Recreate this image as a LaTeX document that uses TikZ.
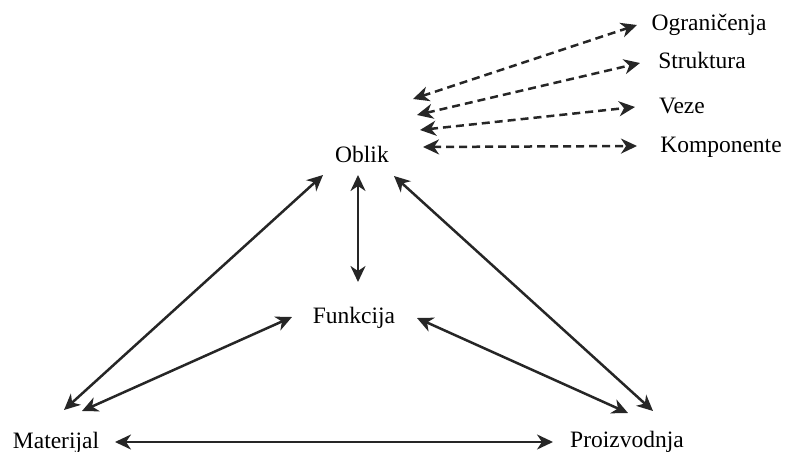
\documentclass[tikz,border=0pt]{standalone}
\usepackage{fontspec}
\setmainfont{Liberation Serif}
\usetikzlibrary{arrows.meta}
\begin{document}
\begin{tikzpicture}[x=1pt,y=-1pt,line width=2.5pt,draw=black!85,
	every node/.style={inner sep=0pt,anchor=base,font=\fontsize{23.5}{28}\selectfont},
	link/.style={{Stealth[length=16pt,width=15pt,inset=5pt]}-{Stealth[length=16pt,width=15pt,inset=5pt]}},
	dlink/.style={link,dash pattern=on 8pt off 5pt}]
	\useasboundingbox (0,0) rectangle (787,452);
	\node (Obl) at (362,162)	{Oblik};
	\node (Fun) at (354,323)	{Funkcija};
	\node (Mat) at ( 56,448)	{Materijal};
	\node (Pro) at (627,447)	{Proizvodnja};
	\node (Ogr) at (709, 31)	{Ograničenja};
	\node (Str) at (702, 69)	{Struktura};
	\node (Vez) at (682,113)	{Veze};
	\node (Kom) at (721,152)	{Komponente};
	\draw[link] ([shift={(-39,13)}]Obl.base) -- ([shift={(8,-38)}]Mat.base);
	\draw[link] ([shift={(-4,13)}]Obl.base) -- ([shift={(4,-41)}]Fun.base);
	\draw[link] ([shift={(32,14)}]Obl.base) -- ([shift={(26,-36)}]Pro.base);
	\draw[link] ([shift={(-62,-6)}]Fun.base) -- ([shift={(26,-37)}]Mat.base);
	\draw[link] ([shift={(63,-5)}]Fun.base) -- ([shift={(1,-34)}]Pro.base);
	\draw[link] ([shift={(59,-6)}]Mat.base) -- ([shift={(-74,-5)}]Pro.base);
	\draw[dlink] ([shift={(51,-63)}]Obl.base) -- ([shift={(-72,-6)}]Ogr.base);
	\draw[dlink] ([shift={(55,-47)}]Obl.base) -- ([shift={(-62,-6)}]Str.base);
	\draw[dlink] ([shift={(58,-32)}]Obl.base) -- ([shift={(-47,-6)}]Vez.base);
	\draw[dlink] ([shift={(61,-15)}]Obl.base) -- ([shift={(-84,-6)}]Kom.base);
\end{tikzpicture}
\end{document}
